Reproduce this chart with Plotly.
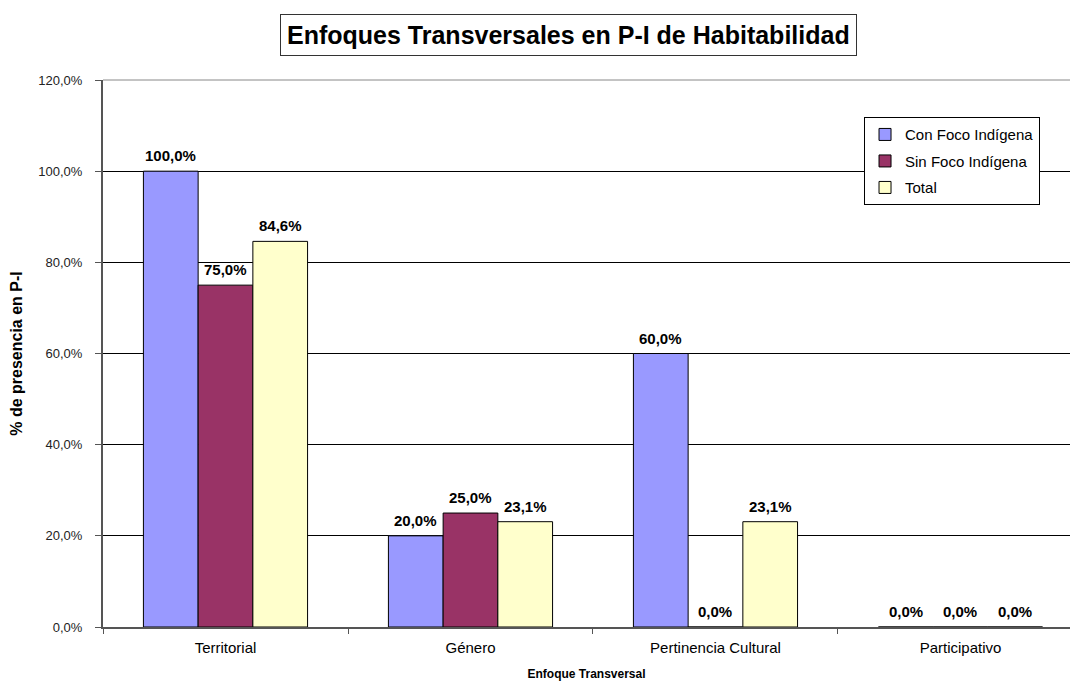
import plotly.graph_objects as go

categories = ["Territorial", "Género", "Pertinencia Cultural", "Participativo"]
con_foco = [1.0, 0.20, 0.60, 0.0]
sin_foco = [0.75, 0.25, 0.0, 0.0]
total = [0.846, 0.231, 0.231, 0.0]
series_names = ["Con Foco Indígena", "Sin Foco Indígena", "Total"]
colors = ["#9999FF", "#993366", "#FFFFCC"]

FONT = "Liberation Sans, Arial, sans-serif"
BARGAP = 0.33
bar_w = (1 - BARGAP) / 3

fig = go.Figure()
annotations = []
for i, (name, vals, col) in enumerate(zip(series_names, [con_foco, sin_foco, total], colors)):
    fig.add_trace(go.Bar(
        x=categories, y=vals, name=name, legendgroup=f"g{i}",
        marker=dict(color=col, line=dict(color="black", width=1)),
        cliponaxis=False,
    ))
    for j, v in enumerate(vals):
        annotations.append(dict(
            x=j + (i - 1) * bar_w, y=v, xref="x", yref="y",
            text=f"{v * 100:.1f}%".replace(".", ","),
            showarrow=False, xanchor="center", yanchor="bottom", yshift=5,
            font=dict(family=FONT, size=15, color="black", weight="bold"),
        ))

annotations.append(dict(
    text="Enfoques Transversales en P-I de Habitabilidad",
    xref="paper", yref="paper", x=0.4815, y=1.082,
    xanchor="center", yanchor="middle", showarrow=False,
    font=dict(family=FONT, size=25, color="black", weight="bold"),
    bordercolor="#333333", borderwidth=1, borderpad=6, bgcolor="white",
))

fig.update_layout(
    width=1070, height=683,
    margin=dict(l=103, r=0, t=80, b=56),
    paper_bgcolor="white", plot_bgcolor="white",
    barmode="group", bargap=BARGAP, bargroupgap=0,
    separators=",.",
    font=dict(family=FONT, size=13, color="black"),
    showlegend=True,
    legend=dict(
        x=0.787, y=0.932, xanchor="left", yanchor="top",
        bordercolor="black", borderwidth=1, bgcolor="white",
        font=dict(family=FONT, size=15, color="black"),
        traceorder="grouped", tracegroupgap=4, itemwidth=30,
        entrywidth=150,
    ),
    xaxis=dict(
        range=[-0.5, 3.447], automargin=False,
        showline=True, linecolor="#555555", linewidth=2,
        ticks="outside", tickson="boundaries", ticklen=5, tickcolor="#555555",
        ticklabelstandoff=6,
        tickfont=dict(family=FONT, size=15, color="black"),
        title=dict(text="Enfoque Transversal", standoff=15,
                   font=dict(family=FONT, size=12, color="black", weight="bold")),
        showgrid=False,
    ),
    yaxis=dict(
        range=[0, 1.2], dtick=0.2, tickformat=".1%", automargin=False,
        showline=True, linecolor="#555555", linewidth=2,
        ticks="outside", ticklen=6, tickcolor="#555555",
        ticklabelstandoff=10,
        showgrid=True, gridcolor="black", gridwidth=1,
        tickfont=dict(family=FONT, size=13, color="#222222"),
        title=dict(text="% de presencia en P-I", standoff=12,
                   font=dict(family=FONT, size=16, color="black", weight="bold")),
        zeroline=False,
    ),
    annotations=annotations,
    shapes=[dict(type="line", xref="paper", yref="paper", x0=0, x1=1, y0=1, y1=1,
                 line=dict(color="#888888", width=1), layer="above")],
)

fig.write_html("out.html",
               config={"displayModeBar": False},
               post_script="document.body.style.margin='0';document.body.style.overflow='hidden';")
